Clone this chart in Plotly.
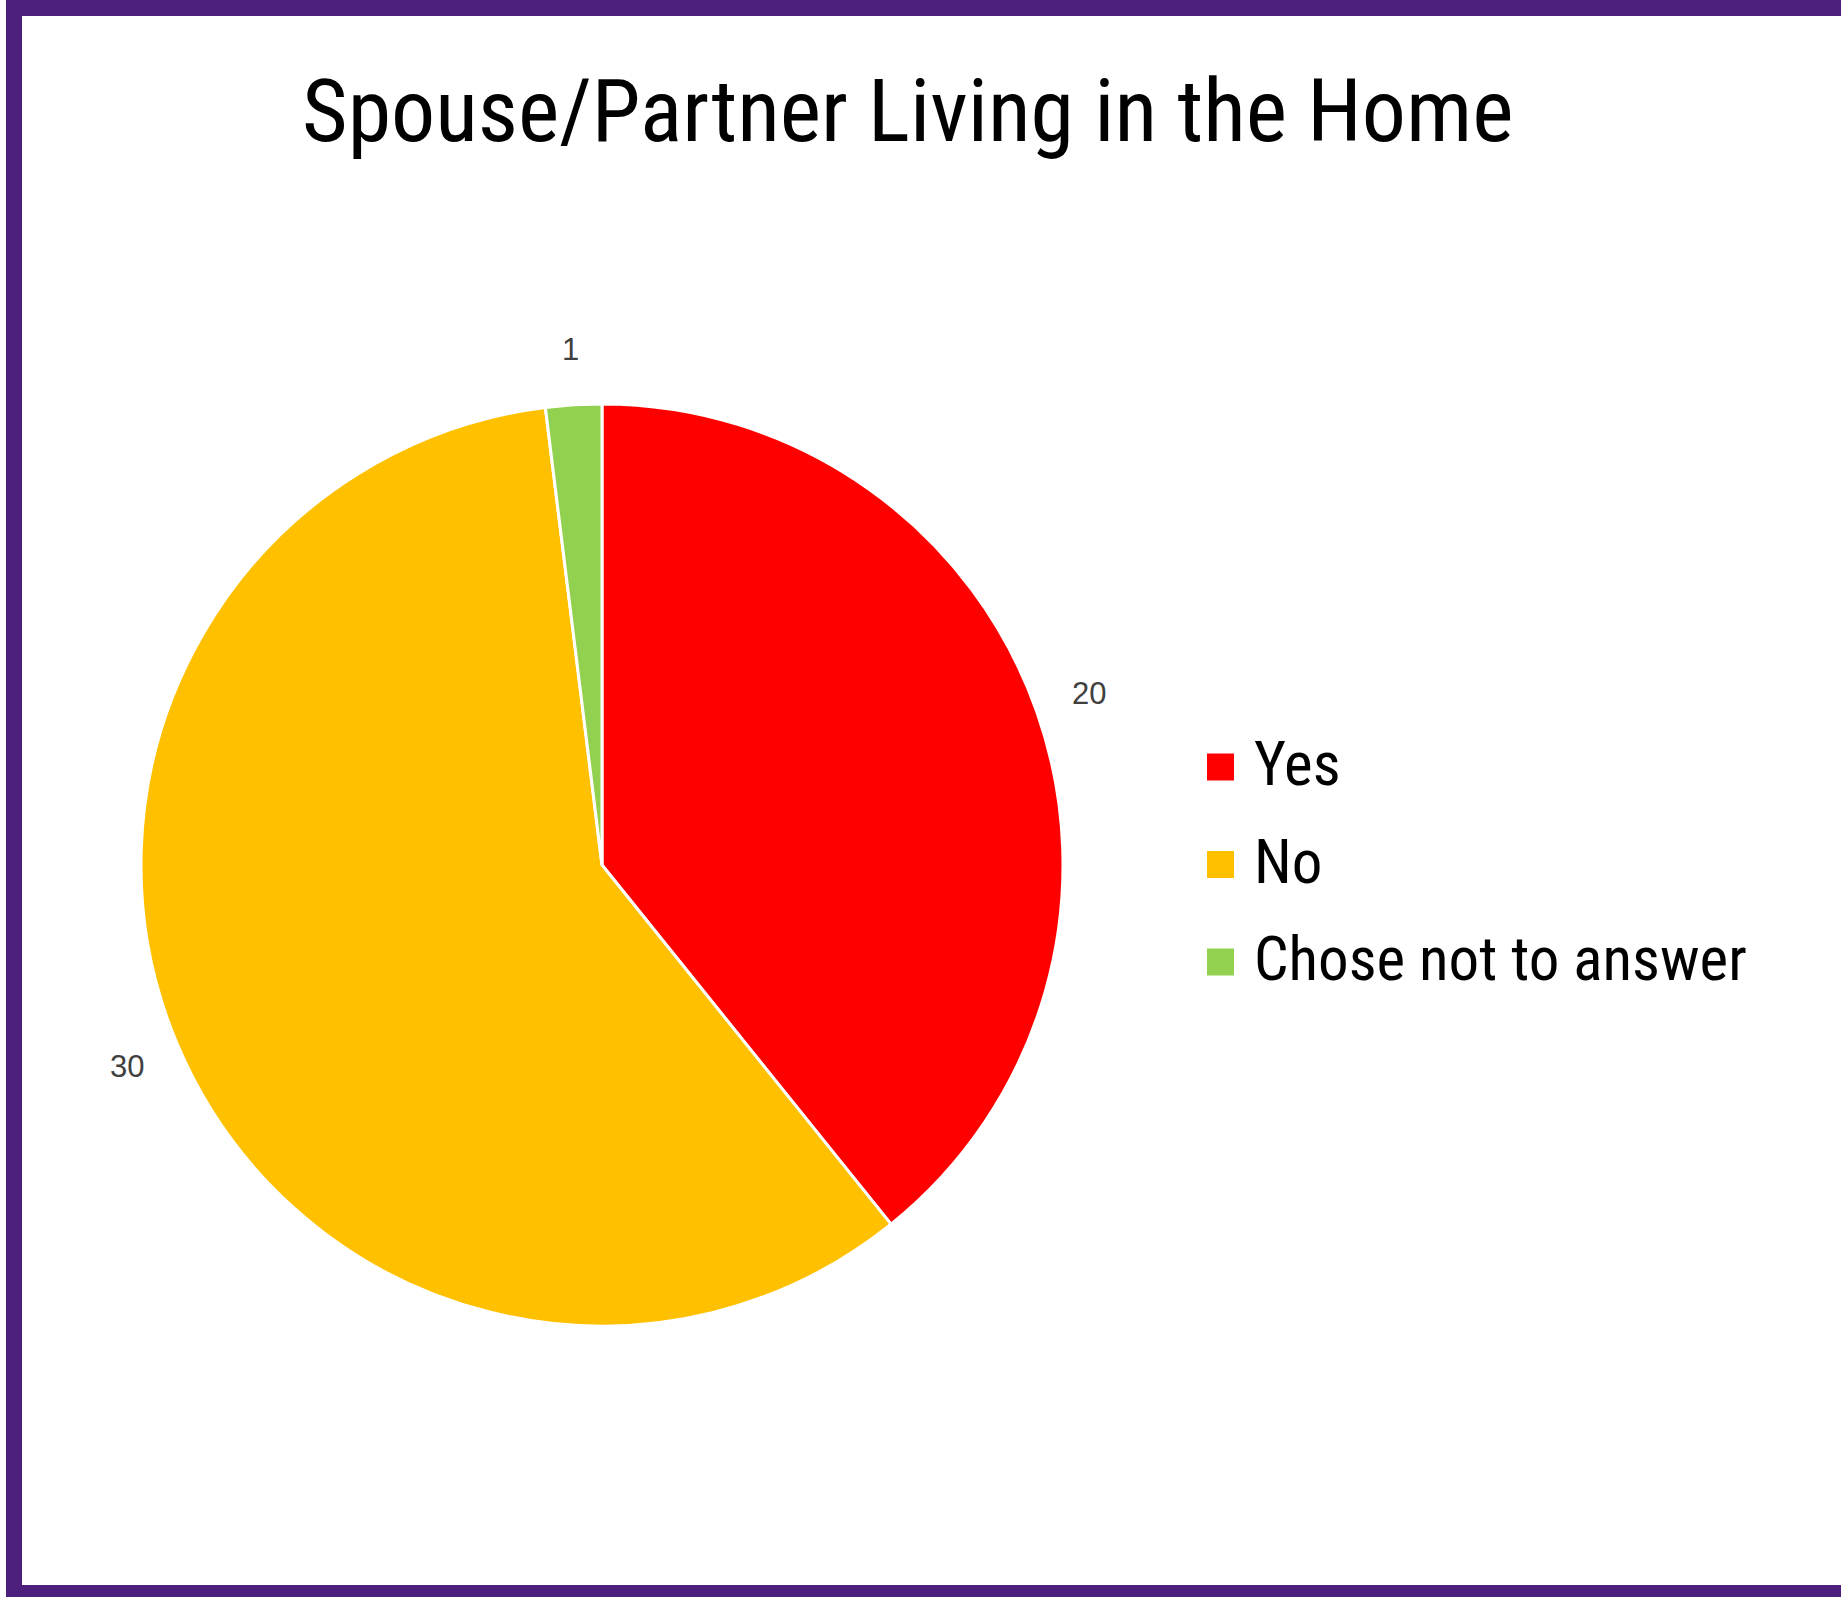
import math
import plotly.graph_objects as go

# ---- data ----
categories = ["Yes", "No", "Chose not to answer"]
values = [20, 30, 1]
colors = ["#FF0000", "#FFC000", "#92D050"]
title_text = "Spouse/Partner Living in the Home"

# ---- layout constants (pixels) ----
W, H = 1841, 1597
CX, CY, R = 602, 865, 461
LABEL_D = 516
NARROW = "Liberation Sans Narrow, Roboto Condensed, Roboto, sans-serif"


def px(x):
    return x / W


def py(y):
    return 1 - y / H


fig = go.Figure()
fig.add_trace(go.Pie(
    labels=categories,
    values=values,
    sort=False,
    direction="clockwise",
    rotation=0,
    marker=dict(colors=colors, line=dict(color="white", width=3)),
    textinfo="none",
    hoverinfo="label+value",
    showlegend=False,
    domain=dict(x=[px(CX - R), px(CX + R)], y=[py(CY + R), py(CY - R)]),
))

annotations = []
shapes = []

# data labels at mid-angle outside each slice
total = sum(values)
cum = 0
for cat, v in zip(categories, values):
    mid = (cum + v / 2) / total * 2 * math.pi
    cum += v
    lx = CX + LABEL_D * math.sin(mid)
    ly = CY - LABEL_D * math.cos(mid)
    annotations.append(dict(
        x=px(lx), y=py(ly), xref="paper", yref="paper",
        text=str(v), showarrow=False, xanchor="center", yanchor="middle",
        font=dict(family="Liberation Sans, Arial, sans-serif", size=31, color="#404040"),
    ))

# custom legend
LEG_X, LEG_Y0, LEG_DY, SQ = 1207, 767, 97.5, 27
for i, (cat, col) in enumerate(zip(categories, colors)):
    cy = LEG_Y0 + i * LEG_DY
    shapes.append(dict(
        type="rect", xref="paper", yref="paper",
        x0=px(LEG_X), x1=px(LEG_X + SQ), y0=py(cy + SQ / 2), y1=py(cy - SQ / 2),
        fillcolor=col, line=dict(width=0),
    ))
    annotations.append(dict(
        x=px(LEG_X + SQ + 18), y=py(cy - 3), xref="paper", yref="paper",
        text=cat, showarrow=False, xanchor="left", yanchor="middle",
        font=dict(family=NARROW, size=61, color="#000000"),
    ))

# title
annotations.append(dict(
    x=px(907), y=py(110), xref="paper", yref="paper",
    text=title_text, showarrow=False, xanchor="center", yanchor="middle",
    font=dict(family=NARROW, size=88, color="#000000"),
))

# purple frame
shapes.append(dict(
    type="rect", xref="paper", yref="paper", layer="above",
    x0=px(14), x1=px(1870), y0=py(1593), y1=py(8),
    line=dict(color="#4B1F7B", width=16), fillcolor="rgba(0,0,0,0)",
))

fig.update_layout(
    width=W, height=H,
    margin=dict(l=0, r=0, t=0, b=0),
    paper_bgcolor="white", plot_bgcolor="white",
    annotations=annotations, shapes=shapes,
    showlegend=False,
)

fig.write_html(
    "out.html",
    config={"displayModeBar": False},
    post_script="document.body.style.margin='0';document.body.style.overflow='hidden';",
)
